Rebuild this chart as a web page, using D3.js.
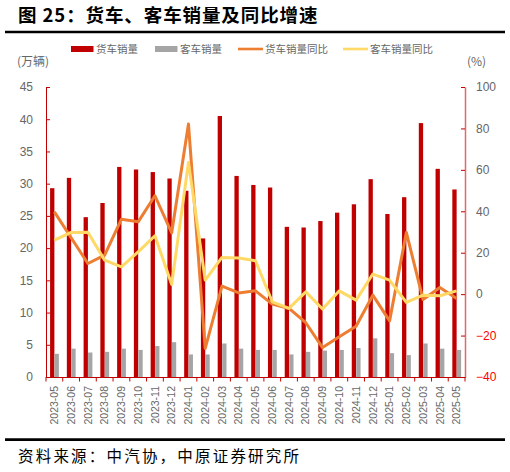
<!DOCTYPE html>
<html><head><meta charset="utf-8">
<script src="https://cdn.jsdelivr.net/npm/d3@7"></script>
<style>
html,body{margin:0;padding:0;background:#fff;}
svg{display:block;}
</style></head>
<body>
<svg id="chart" width="510" height="472"></svg>
<script>
const months = ["2023-05","2023-06","2023-07","2023-08","2023-09","2023-10","2023-11","2023-12","2024-01","2024-02","2024-03","2024-04","2024-05","2024-06","2024-07","2024-08","2024-09","2024-10","2024-11","2024-12","2025-01","2025-02","2025-03","2025-04","2025-05"];
const truckSales = [29.3,30.9,24.8,27.0,32.6,32.2,31.8,30.8,28.9,21.5,40.5,31.2,29.8,29.4,23.3,23.2,24.2,25.5,26.8,30.7,25.3,27.9,39.4,32.3,29.1];
const busSales = [3.6,4.4,3.8,3.9,4.4,4.2,4.8,5.4,3.5,3.5,5.2,4.4,4.2,4.2,3.5,3.9,4.1,4.2,4.5,6.0,3.7,3.4,5.2,4.4,4.2];
const truckYoy = [39.7,27.2,14.8,18.8,36.2,34.9,47.5,29.6,82.1,-26.2,3.9,0.6,1.6,-4.8,-6.9,-13.8,-25.8,-20.6,-15.5,-0.5,-12.9,29.8,-2.6,3.2,-2.1];
const busYoy = [26.1,29.8,29.9,16.4,13.2,20.4,28.2,4.7,63.6,6.8,17.7,17.4,16.1,-3.7,-6.9,1.1,-7.2,1.6,-2.9,9.7,6.8,-4.0,-0.5,-0.8,1.6];
const leftTicks = [0,5,10,15,20,25,30,35,40,45];
const rightTicks = [-40,-20,0,20,40,60,80,100];
const seriesNames = ["货车销量","客车销量","货车销量同比","客车销量同比"];
const titleText = "图 25：货车、客车销量及同比增速";
const sourceText = "资料来源：中汽协，中原证券研究所";

const C = {red:"#c00000", grey:"#a5a5a5", orange:"#ed7d31", yellow:"#ffd966", text:"#666666"};
const svg = d3.select("#chart");
const L=46, R=465, T=87, B=377;
const numFont = "'Liberation Sans Narrow','Liberation Sans',Arial,sans-serif";
const cjk = "'Noto Sans CJK SC','Noto Sans',sans-serif";

// title
svg.append("text").attr("x",18).attr("y",22).text(titleText)
  .attr("font-family",cjk).attr("font-weight","bold").attr("font-size",18.5)
  .attr("letter-spacing","0.9px").attr("fill","#000");
svg.append("line").attr("x1",5).attr("x2",505).attr("y1",32).attr("y2",32).attr("stroke","#000").attr("stroke-width",2.6);
svg.append("line").attr("x1",5).attr("x2",505).attr("y1",439.6).attr("y2",439.6).attr("stroke","#000").attr("stroke-width",2.6);
svg.append("text").attr("x",18).attr("y",462).text(sourceText)
  .attr("font-family",cjk).attr("font-size",15.5).attr("letter-spacing","2.2px").attr("fill","#000");

const x = d3.scaleBand().domain(months).range([L,R]).paddingInner(0).paddingOuter(0);
const bw = x.bandwidth();
const sub = d3.scaleBand().domain(["truck","bus"]).range([bw/2-4.3, bw/2+4.5]).paddingInner(0.04);
const yL = d3.scaleLinear().domain([0,45]).range([B,T]);
const yR = d3.scaleLinear().domain([-40,100]).range([B,T]);

// bars
svg.append("g").selectAll("rect").data(truckSales).join("rect")
  .attr("x",(d,i)=>x(months[i])+sub("truck")).attr("width",sub.bandwidth())
  .attr("y",d=>yL(d)).attr("height",d=>B-yL(d)).attr("fill",C.red);
svg.append("g").selectAll("rect").data(busSales).join("rect")
  .attr("x",(d,i)=>x(months[i])+sub("bus")).attr("width",sub.bandwidth())
  .attr("y",d=>yL(d)).attr("height",d=>B-yL(d)).attr("fill",C.grey);

// lines
const cx = i => x(months[i])+bw/2;
const line = d3.line().x((d,i)=>cx(i)).y(d=>yR(d));
svg.append("path").datum(truckYoy).attr("d",line).attr("fill","none").attr("stroke",C.orange).attr("stroke-width",3).attr("stroke-linejoin","round");
svg.append("path").datum(busYoy).attr("d",line).attr("fill","none").attr("stroke",C.yellow).attr("stroke-width",3).attr("stroke-linejoin","round");

// left axis
const gL = svg.append("g").attr("transform",`translate(${L},0)`)
  .call(d3.axisLeft(yL).tickValues(leftTicks).tickSizeInner(-4).tickSizeOuter(0).tickPadding(13));
gL.select(".domain").attr("stroke",C.red);
gL.selectAll(".tick line").attr("stroke",C.red);
gL.selectAll("text").attr("font-family",numFont).attr("font-size",12).attr("fill",C.text);

// right axis
const gR = svg.append("g").attr("transform",`translate(${R},0)`)
  .call(d3.axisRight(yR).tickValues(rightTicks).tickSizeInner(-4).tickSizeOuter(0).tickPadding(11));
gR.select(".domain").attr("stroke","#e06a6a").attr("stroke-width",1.5);
gR.selectAll(".tick line").attr("stroke",C.red);
gR.selectAll("text").attr("font-family",numFont).attr("font-size",12).attr("fill",d=>d<0?"#ff0000":C.text);

// x axis
const gX = svg.append("g").attr("transform",`translate(0,${B})`)
  .call(d3.axisBottom(x).tickSize(0).tickPadding(0));
gX.select(".domain").attr("stroke",C.red);
gX.selectAll(".tick text")
  .attr("transform","translate(0,9) rotate(-90)")
  .attr("text-anchor","end").attr("dy","0.35em").attr("x",0).attr("y",0)
  .attr("font-family","'Liberation Sans',Arial,sans-serif").attr("font-size",10.5).attr("fill",C.text);
// boundary ticks
const bounds = months.map(m=>x(m)).concat([R]);
svg.append("g").selectAll("line").data(bounds).join("line")
  .attr("x1",d=>d).attr("x2",d=>d).attr("y1",B).attr("y2",B+4.5).attr("stroke",C.red);

// axis titles
svg.append("text").attr("x",17).attr("y",66).text("(万辆)").attr("font-family",cjk).attr("font-size",12).attr("fill",C.text);
svg.append("text").attr("x",467).attr("y",66).text("(%)").attr("font-family",cjk).attr("font-size",12).attr("fill",C.text);

// legend
const leg = [
  {n:seriesNames[0], t:"rect", c:C.red, x:71, tx:96},
  {n:seriesNames[1], t:"rect", c:C.grey, x:155, tx:180},
  {n:seriesNames[2], t:"line", c:C.orange, x:238, tx:265},
  {n:seriesNames[3], t:"line", c:C.yellow, x:343, tx:370}
];
const lg = svg.append("g");
leg.forEach(d=>{
  if(d.t==="rect") lg.append("rect").attr("x",d.x).attr("y",46).attr("width",22.5).attr("height",6).attr("fill",d.c);
  else lg.append("line").attr("x1",d.x).attr("x2",d.x+25).attr("y1",49).attr("y2",49).attr("stroke",d.c).attr("stroke-width",2.6);
  lg.append("text").attr("x",d.tx).attr("y",53).text(d.n).attr("font-family",cjk).attr("font-size",10.5).attr("fill",C.text);
});
</script>
</body></html>
